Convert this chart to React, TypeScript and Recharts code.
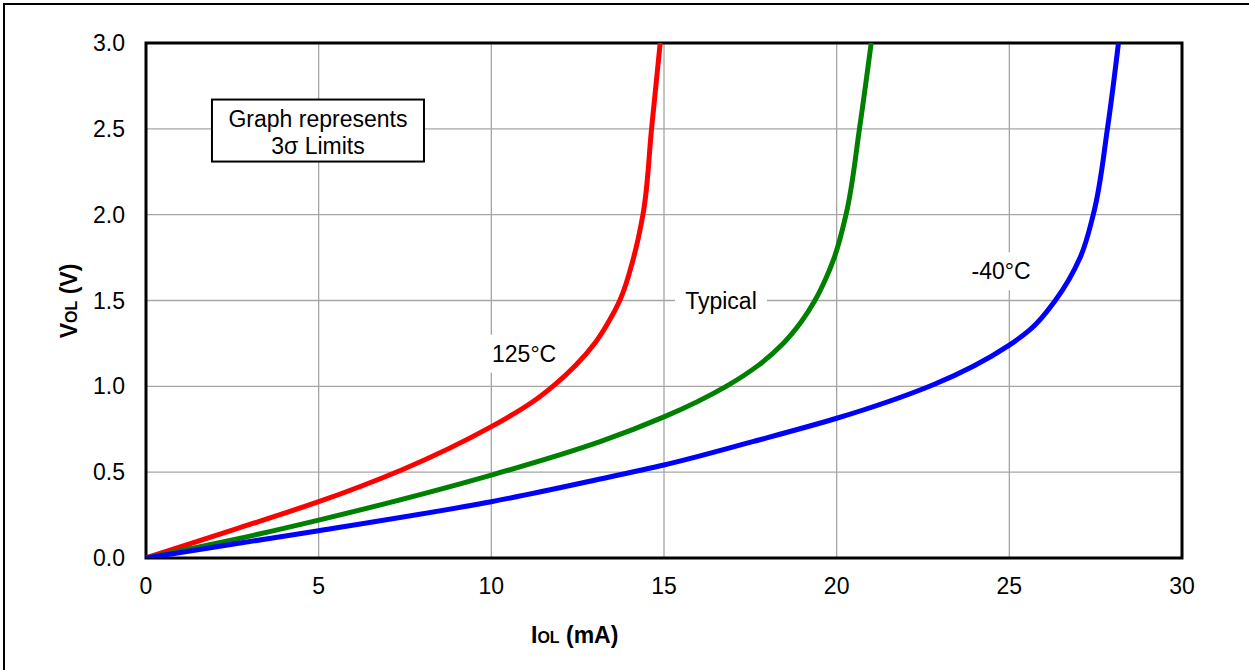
import React from 'react';
import {
  LineChart,
  Line,
  XAxis,
  YAxis,
  CartesianGrid,
  ReferenceArea,
  ReferenceDot,
} from 'recharts';

const FONT = '"Liberation Sans", Arial, Helvetica, sans-serif';

// IOL (mA) vs VOL (V)
const hot125 = [
  { i: 0, v: 0 },
  { i: 2.5, v: 0.163 },
  { i: 5, v: 0.328 },
  { i: 7.4, v: 0.513 },
  { i: 10, v: 0.765 },
  { i: 11.2, v: 0.91 },
  { i: 11.84, v: 1.01 },
  { i: 12.43, v: 1.12 },
  { i: 13.03, v: 1.26 },
  { i: 13.41, v: 1.38 },
  { i: 13.72, v: 1.5 },
  { i: 14.12, v: 1.75 },
  { i: 14.39, v: 2.0 },
  { i: 14.64, v: 2.5 },
  { i: 14.89, v: 3.0 },
];

const typical = [
  { i: 0, v: 0 },
  { i: 2.5, v: 0.105 },
  { i: 5, v: 0.221 },
  { i: 10, v: 0.483 },
  { i: 13.15, v: 0.678 },
  { i: 15, v: 0.822 },
  { i: 16.8, v: 1.0 },
  { i: 17.75, v: 1.125 },
  { i: 18.45, v: 1.25 },
  { i: 18.97, v: 1.375 },
  { i: 19.37, v: 1.5 },
  { i: 19.68, v: 1.625 },
  { i: 19.93, v: 1.75 },
  { i: 20.27, v: 2.0 },
  { i: 20.66, v: 2.5 },
  { i: 21.0, v: 3.0 },
];

const cold40 = [
  { i: 0, v: 0 },
  { i: 2.5, v: 0.08 },
  { i: 5, v: 0.159 },
  { i: 10, v: 0.328 },
  { i: 13.15, v: 0.46 },
  { i: 15, v: 0.542 },
  { i: 17.57, v: 0.678 },
  { i: 20, v: 0.814 },
  { i: 22.78, v: 1.008 },
  { i: 25, v: 1.24 },
  { i: 25.6, v: 1.33 },
  { i: 26.33, v: 1.5 },
  { i: 27.05, v: 1.75 },
  { i: 27.43, v: 2.0 },
  { i: 27.84, v: 2.5 },
  { i: 28.16, v: 3.0 },
];

const xTicks = [0, 5, 10, 15, 20, 25, 30];
const yTicks = [0, 0.5, 1.0, 1.5, 2.0, 2.5, 3.0];

// curve labels, anchored in data units
const curveLabels = [
  { text: '125°C', i: 10.95, v: 1.19, w: 74 },
  { text: 'Typical', i: 16.65, v: 1.5, w: 92 },
  { text: '-40°C', i: 24.76, v: 1.67, w: 72 },
];

const noteLines = ['Graph represents', '3σ Limits'];

const LabelShape = ({ cx, cy, text, w }: any) => (
  <g>
    <rect x={cx - w / 2} y={cy - 19} width={w} height={38} fill="#fff" />
    <text
      x={cx}
      y={cy}
      textAnchor="middle"
      dominantBaseline="central"
      fontFamily={FONT}
      fontSize={23}
      fill="#000"
    >
      {text}
    </text>
  </g>
);

const NoteShape = ({ cx, cy }: any) => (
  <g>
    <rect x={cx - 106} y={cy - 31} width={212} height={62} fill="#fff" stroke="#000" strokeWidth={2} />
    {noteLines.map((t, k) => (
      <text
        key={k}
        x={cx}
        y={cy - 12 + k * 27}
        textAnchor="middle"
        dominantBaseline="central"
        fontFamily={FONT}
        fontSize={23}
        fill="#000"
      >
        {t}
      </text>
    ))}
  </g>
);

export default function App() {
  return (
    <div
      style={{
        position: 'absolute',
        left: 0,
        top: 0,
        width: 1249,
        height: 670,
        background: '#fff',
        fontFamily: FONT,
        overflow: 'hidden',
      }}
    >
      <div
        style={{
          position: 'absolute',
          left: 3,
          top: 3,
          width: 1260,
          height: 700,
          borderLeft: '2px solid #000',
          borderTop: '2px solid #000',
        }}
      />
      {/* vertical layout so the curves are interpolated along V (monotoneY), keeps the knees smooth */}
      <LineChart
        layout="vertical"
        width={1249}
        height={670}
        margin={{ top: 43, right: 67, left: 0, bottom: 52 }}
        style={{ position: 'absolute', left: 0, top: 0 }}
      >
        <CartesianGrid stroke="#a6a6a6" strokeWidth={1.3} />
        <XAxis
          dataKey="i"
          type="number"
          domain={[0, 30]}
          ticks={xTicks}
          height={60}
          tickLine={false}
          axisLine={false}
          tickMargin={14}
          tick={{ fill: '#000', fontSize: 23, fontFamily: FONT }}
          allowDataOverflow
        />
        <YAxis
          dataKey="v"
          type="number"
          domain={[0, 3]}
          ticks={yTicks}
          reversed
          width={146}
          tickLine={false}
          axisLine={false}
          tickMargin={15}
          tickFormatter={(v: number) => v.toFixed(1)}
          tick={{ fill: '#000', fontSize: 23, fontFamily: FONT }}
          allowDataOverflow
        />
        {curveLabels.map((l) => (
          <ReferenceDot
            key={l.text}
            x={l.i}
            y={l.v}
            r={0}
            shape={(p: any) => <LabelShape {...p} text={l.text} w={l.w} />}
          />
        ))}
        <ReferenceDot x={4.98} y={2.49} r={0} shape={(p: any) => <NoteShape {...p} />} />
        <Line data={hot125} dataKey="i" type="monotone" stroke="#ff0000" strokeWidth={5} dot={false} isAnimationActive={false} />
        <Line data={typical} dataKey="i" type="monotone" stroke="#008000" strokeWidth={5} dot={false} isAnimationActive={false} />
        <Line data={cold40} dataKey="i" type="monotone" stroke="#0000ff" strokeWidth={5} dot={false} isAnimationActive={false} />
        <ReferenceArea x1={0} x2={30} y1={0} y2={3} fill="none" stroke="#000" strokeWidth={3} fillOpacity={0} />
      </LineChart>
      <div
        style={{
          position: 'absolute',
          left: 531,
          top: 620,
          fontSize: 23,
          fontWeight: 'bold',
          whiteSpace: 'nowrap',
          lineHeight: '30px',
        }}
      >
        I<span style={{ fontSize: 16 }}>OL</span> (mA)
      </div>
      <div
        style={{
          position: 'absolute',
          left: 70,
          top: 301,
          transform: 'translate(-50%, -50%) rotate(-90deg)',
          fontSize: 23,
          fontWeight: 'bold',
          whiteSpace: 'nowrap',
          lineHeight: '30px',
        }}
      >
        V<span style={{ fontSize: 16 }}>OL</span> (V)
      </div>
    </div>
  );
}
